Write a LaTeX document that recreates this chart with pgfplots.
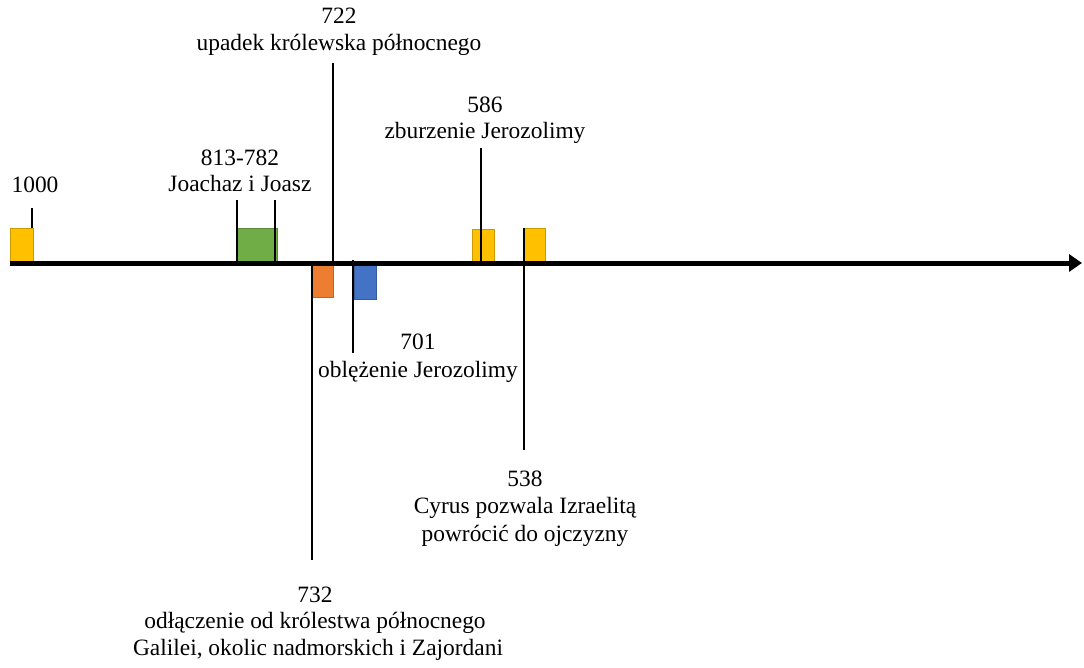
\documentclass[border=0pt]{standalone}
\usepackage{pgfplots}
\pgfplotsset{compat=1.18}
\usepackage{fontspec}
\setmainfont{Liberation Serif}
\usetikzlibrary{arrows.meta}

\definecolor{yel}{HTML}{FFC000}
\definecolor{grn}{HTML}{70AD47}
\definecolor{org}{HTML}{ED7D31}
\definecolor{blu}{HTML}{4472C4}

\begin{document}
\begin{tikzpicture}[lbl/.style={font=\fontsize{23.5}{27}\selectfont, inner sep=0pt, anchor=base}]
\begin{axis}[
    at={(0,0)}, anchor=south west,
    width=1084bp, height=668bp, scale only axis,
    xmin=0, xmax=1084, ymin=0, ymax=668, y dir=reverse,
    axis lines=none, ticks=none, clip=false,
]
% boxes (x in px, y in px from top)
\addplot[fill=yel, draw=yel!80!black, line width=0.8bp] coordinates {(10,228) (33,228) (33,262) (10,262)} -- cycle;
\addplot[fill=grn, draw=grn!80!black, line width=0.8bp] coordinates {(237,228) (277,228) (277,262) (237,262)} -- cycle;
\addplot[fill=org, draw=org!80!black, line width=0.8bp] coordinates {(312,263) (333,263) (333,297) (312,297)} -- cycle;
\addplot[fill=blu, draw=blu!80!black, line width=0.8bp] coordinates {(354,263) (376,263) (376,299) (354,299)} -- cycle;
\addplot[fill=yel, draw=yel!80!black, line width=0.8bp] coordinates {(472,229) (494,229) (494,262) (472,262)} -- cycle;
\addplot[fill=yel, draw=yel!80!black, line width=0.8bp] coordinates {(524,228) (545,228) (545,262) (524,262)} -- cycle;

% leader lines
\addplot[black, line width=1.2bp] coordinates {(32,208) (32,228)};
\addplot[black, line width=1.2bp] coordinates {(237,200) (237,262)};
\addplot[black, line width=1.2bp] coordinates {(275,200) (275,262)};
\addplot[black, line width=1.2bp] coordinates {(333,63) (333,262)};
\addplot[black, line width=1.2bp] coordinates {(481,148) (481,262)};
\addplot[black, line width=1.2bp] coordinates {(312,262) (312,560)};
\addplot[black, line width=1.2bp] coordinates {(353,260) (353,353)};
\addplot[black, line width=1.2bp] coordinates {(524,228) (524,450)};

% time axis
\addplot[black, line width=5bp, -{Triangle[length=13bp,width=17bp]}] coordinates {(10,263) (1082,263)};

% labels
\node[lbl] at (axis cs:35,193) {1000};
\node[lbl] at (axis cs:240,165) {813-782};
\node[lbl] at (axis cs:240,191) {Joachaz i Joasz};
\node[lbl] at (axis cs:339,24) {722};
\node[lbl] at (axis cs:339,51) {upadek królewska północnego};
\node[lbl] at (axis cs:485,113) {586};
\node[lbl] at (axis cs:485,139) {zburzenie Jerozolimy};
\node[lbl] at (axis cs:418,349) {701};
\node[lbl] at (axis cs:418,377) {oblężenie Jerozolimy};
\node[lbl] at (axis cs:525,486) {538};
\node[lbl] at (axis cs:525,513) {Cyrus pozwala Izraelitą};
\node[lbl] at (axis cs:525,541) {powrócić do ojczyzny};
\node[lbl] at (axis cs:315,602) {732};
\node[lbl] at (axis cs:315,628) {odłączenie od królestwa północnego};
\node[lbl] at (axis cs:318,655) {Galilei, okolic nadmorskich i Zajordani};
\end{axis}
\pgfresetboundingbox
\path[use as bounding box] (0,0) rectangle (1084bp,668bp);
\end{tikzpicture}
\end{document}
